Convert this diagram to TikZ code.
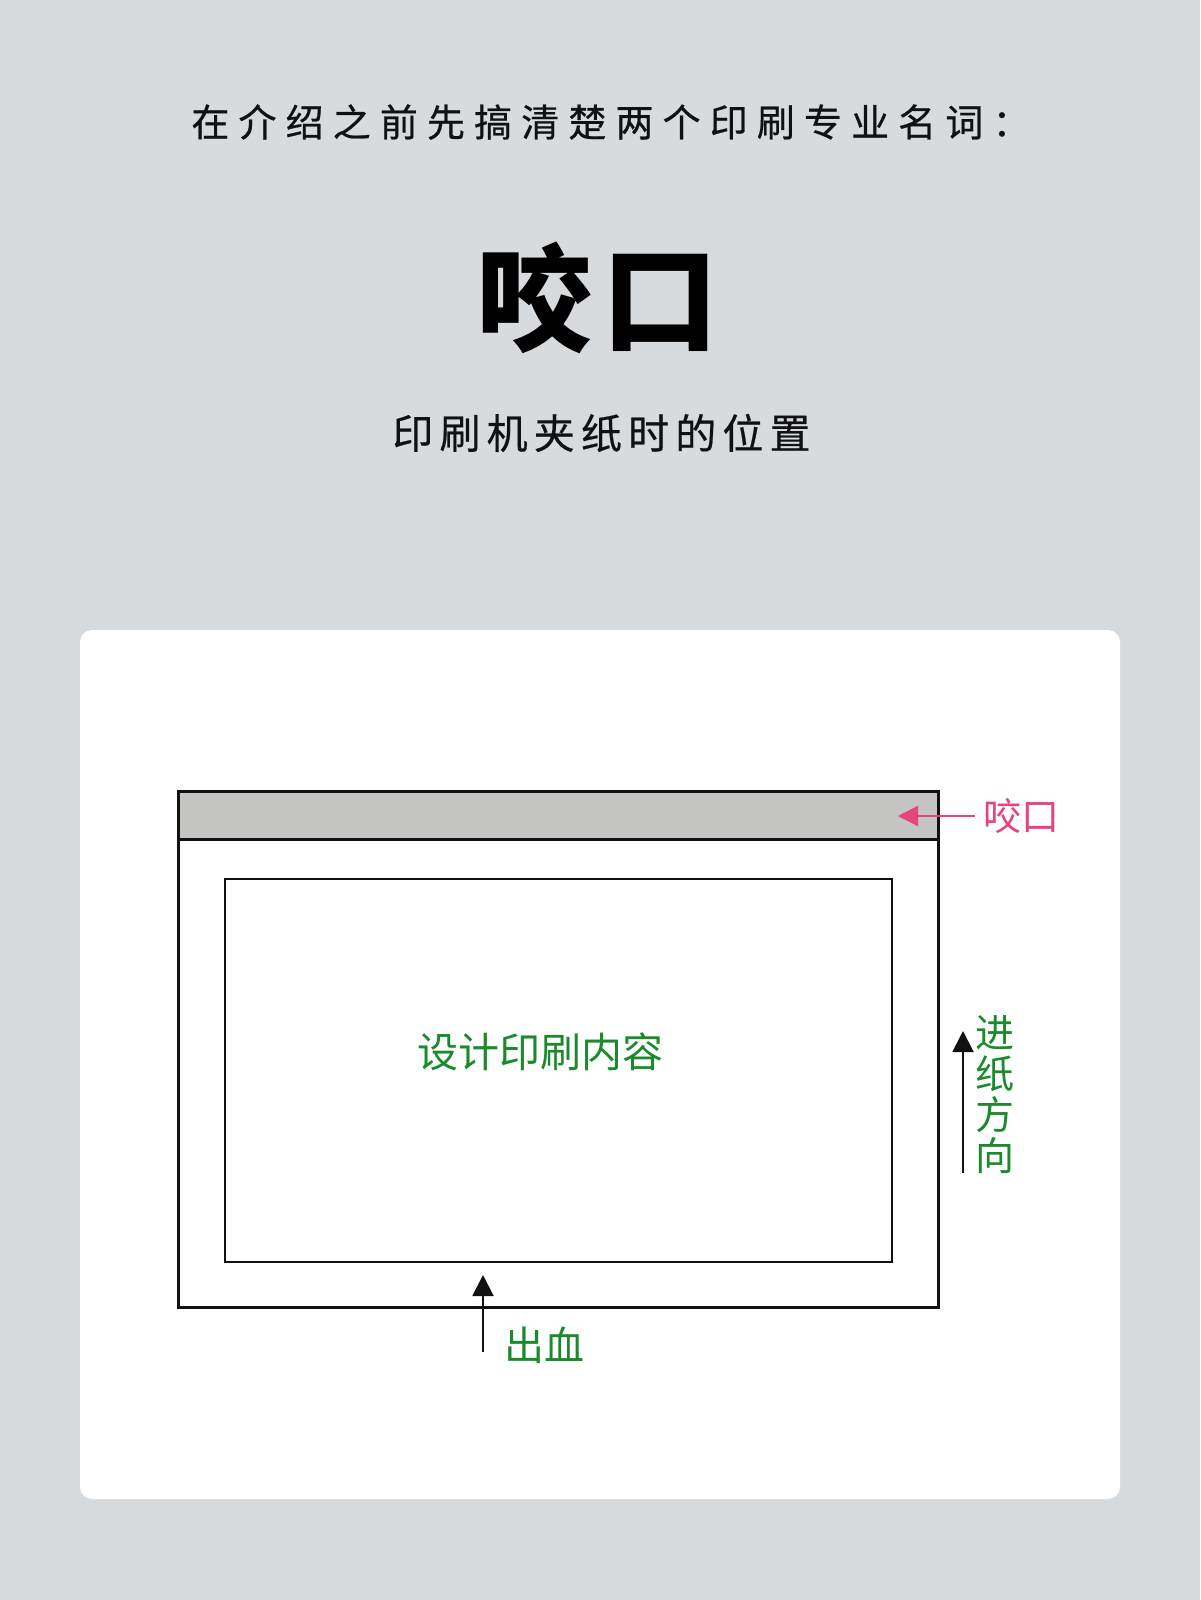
\documentclass[tikz,border=0pt]{standalone}
\usepackage{fontspec}
\usetikzlibrary{arrows.meta}
\newfontfamily\cjk{Noto Sans CJK SC}
\newfontfamily\cjktitle[LetterSpace=24,FakeBold=0.6]{Noto Sans CJK SC}
\newfontfamily\cjksub[LetterSpace=15,FakeBold=0.5]{Noto Sans CJK SC}
\newfontfamily\cjkbig[LetterSpace=9]{Noto Sans CJK SC}
\definecolor{bggray}{HTML}{D8DBDE}
\definecolor{band}{HTML}{C4C4C2}
\definecolor{inkblack}{HTML}{111111}
\definecolor{labelgreen}{HTML}{1A8A2C}
\definecolor{labelpink}{HTML}{E8437F}
\tikzset{
  frame/.style={draw=inkblack, line width=1.4pt},
  innerframe/.style={draw=inkblack, line width=1.2pt},
  greenlabel/.style={text=labelgreen, font=\cjk\fontsize{20}{22}\selectfont, inner sep=0pt},
  pinklabel/.style={text=labelpink, font=\cjk\fontsize{19}{21}\selectfont, inner sep=0pt},
  blackarrow/.style={draw=inkblack, line width=1pt, -{Triangle[length=10.5pt,width=10.5pt]}},
  pinkarrow/.style={draw=labelpink, line width=1.1pt, -{Triangle[length=10pt,width=10pt]}},
}
\begin{document}
\begin{tikzpicture}[x=0.5pt, y=-0.5pt]
\useasboundingbox (0,0) rectangle (1200,1600);
\fill[bggray] (0,0) rectangle (1200,1600);
% texts at the top
\node[anchor=west, inner sep=0pt, text=inkblack, font=\cjktitle\fontsize{19}{21}\selectfont] (title) at (191,122) {在介绍之前先搞清楚两个印刷专业名词：};
\node[anchor=west, inner sep=0pt, text=black, font=\cjkbig\bfseries\fontsize{58}{60}\selectfont] (big) at (476,298) {咬口};
\node[anchor=west, inner sep=0pt, text=inkblack, font=\cjksub\fontsize{20.5}{22}\selectfont] (sub) at (392,433) {印刷机夹纸时的位置};
% card
\fill[white, rounded corners=6pt] (80,630) rectangle (1120,1499);
% sheet
\node[frame, fill=band, minimum width=380pt, minimum height=24pt, inner sep=0pt, anchor=north west] (bite) at (177,790) {};
\node[frame, minimum width=380pt, minimum height=258pt, inner sep=0pt, anchor=north west] (sheet) at (177,790) {};
\node[innerframe, minimum width=333.5pt, minimum height=191.5pt, inner sep=0pt, anchor=north west] (content) at (224,878) {};
% labels
\node[greenlabel, font=\cjk\fontsize{20.5}{22}\selectfont] (contentlabel) at (540,1052) {设计印刷内容};
\node[pinklabel, anchor=west] (bitelabel) at (983,816) {咬口};
\node[greenlabel, align=center, font=\cjk\fontsize{19.5}{20.5}\selectfont] (feedlabel) at (995,1095) {进\\纸\\方\\向};
\node[greenlabel, anchor=west] (bleedlabel) at (504,1345) {出血};
% arrows
\coordinate (pinkstart) at (975,816);
\coordinate (pinktip) at (898,816);
\draw[pinkarrow] (pinkstart) -- (pinktip);
\coordinate (feedstart) at (963,1173);
\coordinate (feedtip) at (963,1031);
\draw[blackarrow] (feedstart) -- (feedtip);
\coordinate (bleedstart) at (483,1352);
\coordinate (bleedtip) at (483,1275);
\draw[blackarrow] (bleedstart) -- (bleedtip);
\end{tikzpicture}
\end{document}
